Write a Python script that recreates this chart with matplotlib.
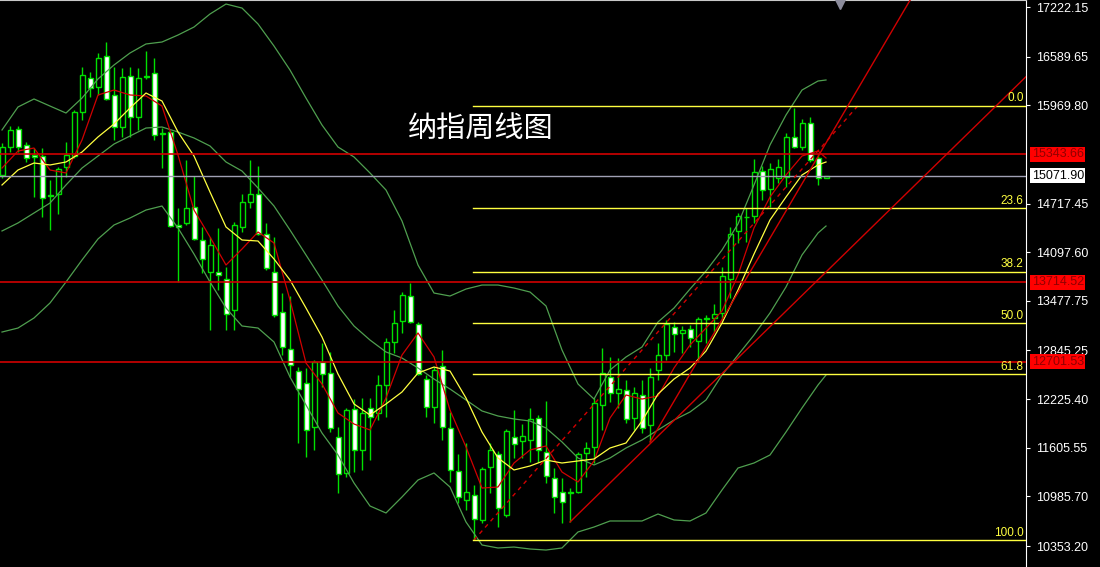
import matplotlib
matplotlib.use("Agg")
import matplotlib.pyplot as plt
import matplotlib.transforms as mtransforms
import numpy as np

# weekly candles, oldest first
opens = [15081, 15438, 15668, 15463, 15336, 15323, 14827, 14839, 15183, 15323,
         15884, 16317, 16203, 16598, 16101, 15693, 16343, 15820, 16330, 16381,
         15604, 15629, 14444, 14469, 14673, 14253, 13845, 13845, 13756, 13361,
         14418, 14737, 14839, 14329, 13845, 13335, 12864, 12583, 12430, 11870,
         12698, 12558, 11742, 11284, 12099, 11577, 12112, 12048, 12405, 12953,
         13221, 13539, 13182, 12481, 12124, 12647, 11857, 11309, 10939, 11003,
         10685, 11360, 11526, 10748, 11742, 11691, 11704, 11984, 11551, 11220,
         11041, 11028, 11041, 11539, 11615, 12150, 12507, 12303, 12341, 11984,
         12277, 11895, 12596, 12787, 13144, 13068, 13119, 12966, 13246, 13259,
         13323, 13756, 14368, 14546, 14559, 15132, 14903, 15043, 15056, 15565,
         15438, 15744, 15298, 15038]
highs = [15489, 15706, 15706, 15502, 15425, 15425, 15018, 15183, 15502, 15910,
         16458, 16394, 16636, 16776, 16458, 16445, 16458, 16445, 16661, 16572,
         15680, 15655, 14661, 15272, 15069, 14418, 14291, 14406, 13909, 14482,
         14839, 15272, 15196, 14469, 14291, 13577, 13539, 12634, 12621, 12724,
         12940, 12825, 11870, 12112, 12227, 12239, 12239, 12532, 13004, 13361,
         13590, 13705, 13208, 12532, 12634, 12851, 12061, 11526, 11666, 11131,
         11360, 11666, 11564, 11844, 12086, 11908, 12112, 12023, 12201, 11347,
         11220, 11092, 11551, 11679, 12239, 12877, 12762, 12749, 12469, 12379,
         12469, 12621, 12940, 13233, 13208, 13157, 13170, 13272, 13297, 13437,
         13909, 14418, 14597, 14661, 15285, 15196, 15234, 15285, 15616, 15935,
         15795, 15820, 15349, 15072]
lows = [15043, 15374, 15374, 15247, 14801, 14546, 14380, 14584, 15056, 15298,
        15782, 16075, 16101, 16037, 15527, 15565, 15565, 15655, 16305, 15527,
        15170, 14418, 13718, 14444, 14253, 13832, 13106, 13616, 13106, 13106,
        14355, 14661, 14317, 13870, 13272, 12787, 12507, 11666, 11488, 11577,
        12379, 11806, 11028, 11233, 11296, 11322, 11449, 11959, 11997, 12813,
        13068, 13195, 12532, 11997, 11921, 11704, 11169, 10901, 10812, 10430,
        10646, 11028, 10596, 10723, 11475, 11475, 11424, 11424, 11156, 10774,
        10646, 10659, 11028, 11233, 11411, 11832, 12188, 12112, 11921, 11832,
        11793, 11679, 12469, 12724, 12825, 12813, 12889, 12698, 12940, 13080,
        13233, 13514, 14215, 14227, 14469, 14763, 14673, 14979, 14928, 15425,
        15400, 15247, 14954, 15038]
closes = [15438, 15655, 15438, 15298, 15311, 14788, 14814, 15158, 15336, 15884,
          16356, 16190, 16572, 16050, 15693, 16330, 15820, 16317, 16343, 15591,
          15616, 14431, 14418, 14661, 14266, 14010, 14189, 13807, 13310, 14444,
          14737, 14839, 14329, 13896, 13297, 12889, 12660, 12354, 11832, 12698,
          12545, 11857, 11271, 12086, 11577, 12048, 11997, 12405, 12953, 13195,
          13552, 13208, 12545, 12124, 12596, 11870, 11322, 10978, 11041, 10697,
          11335, 11577, 10838, 11819, 11653, 11755, 11971, 11577, 11245, 10978,
          10914, 11041, 11526, 11602, 12176, 12558, 12303, 12354, 11971, 12303,
          11857, 12507, 12787, 13182, 13055, 13106, 13004, 13246, 13259, 13310,
          13794, 14329, 14559, 14540, 15119, 14890, 15158, 15183, 15565, 15438,
          15744, 15272, 15043, 15071.90]

# indicator values, sampled every second week
ind_weeks = list(range(0, 103, 2)) + [103]
bb_upper = [15655, 15948, 16050, 15960, 15871, 16062, 16305, 16483, 16636, 16751,
            16776, 16865, 16967, 17133, 17260, 17209, 17006, 16725, 16419, 16062,
            15718, 15438, 15311, 15107, 14890, 14495, 13934, 13577, 13539, 13628,
            13679, 13679, 13641, 13590, 13412, 12851, 12418, 12226, 12596, 12762,
            12889, 13208, 13386, 13628, 13858, 14125, 14457, 14954, 15464, 15846,
            16164, 16279, 16292]
bb_mid = [14368, 14470, 14597, 14724, 14954, 15170, 15323, 15476, 15578, 15680,
          15693, 15629, 15553, 15451, 15247, 15132, 14916, 14686, 14380, 14062,
          13743, 13412, 13157, 12978, 12826, 12749, 12622, 12481, 12354, 12214,
          12074, 12010, 11972, 11946, 11857, 11679, 11475, 11386, 11475, 11602,
          11704, 11832, 11959, 12061, 12214, 12532, 12787, 13042, 13323, 13654,
          14062, 14342, 14431]
bb_lower = [13080, 13131, 13259, 13450, 13718, 13998, 14266, 14444, 14533, 14635,
            14686, 14406, 14074, 13718, 13386, 13157, 13131, 12953, 12507, 12150,
            11793, 11513, 11156, 10863, 10774, 10978, 11194, 11284, 11105, 10659,
            10366, 10328, 10340, 10315, 10302, 10328, 10532, 10595, 10672, 10672,
            10672, 10761, 10685, 10672, 10774, 11067, 11347, 11411, 11513, 11806,
            12112, 12405, 12532]
ma_fast = [15170, 15387, 15425, 15145, 15107, 15527, 16101, 16164, 16101, 16088,
           15960, 15336, 14635, 14291, 13934, 14138, 14355, 14215, 13488, 12685,
           12418, 12048, 11908, 11832, 12239, 12787, 13068, 12762, 12086, 11615,
           11092, 11105, 11411, 11577, 11628, 11296, 11169, 11437, 11984, 12278,
           12226, 12265, 12622, 12915, 13131, 13348, 13807, 14406, 14801, 15081,
           15323, 15387, 15298]
ma_slow = [14954, 15145, 15234, 15209, 15247, 15374, 15566, 15731, 15935, 16126,
           16024, 15629, 15323, 14865, 14419, 14253, 14240, 14011, 13743, 13386,
           13017, 12545, 12163, 12023, 12163, 12316, 12558, 12634, 12583, 12239,
           11806, 11475, 11322, 11373, 11449, 11411, 11437, 11462, 11602, 11666,
           11946, 12290, 12481, 12622, 12838, 13195, 13616, 14074, 14508, 14801,
           15081, 15209, 15247]

# support / resistance and current price
res_levels = [15343.66, 13714.52, 12701.53]
last_price = 15071.90
price_ticks = [17222.15, 16589.65, 15969.80, 14717.45, 14097.60, 13477.75,
               12845.25, 12225.40, 11605.55, 10985.70, 10353.20]

# retracement anchors (week, price)
fib_low = (59, 10430)
fib_high = (107, 15965)
fib_ratios = [0.0, 23.6, 38.2, 50.0, 61.8, 100.0]

# trend lines through two points (week, price)
trend_a = [(71, 10659), (103, 13845)]
trend_b = [(81, 11679), (103, 15489)]

title = "纳指周线图"

GREEN = '#00e000'
BAND = '#4f9f4f'
RED = '#d00000'
YELLOW = '#ffff40'

plt.rcParams['font.family'] = ['Liberation Sans', 'DejaVu Sans']

fig = plt.figure(figsize=(11, 5.67), dpi=100, facecolor='black')
ax = fig.add_axes([0, 0, 1026 / 1100, 1])
ax.set_facecolor('black')
ax.set_xlim(-0.25, 128)
ax.set_ylim(10085.6, 17311.4)

# candles
x = np.arange(len(opens))
o = np.array(opens)
c = np.array(closes)
up = c >= o
ax.vlines(x, lows, highs, color=GREEN, lw=1, zorder=2)
body_lo = np.minimum(o, c)
body_h = np.maximum(np.abs(c - o), 4)
ax.bar(x, body_h, bottom=body_lo, width=0.625,
       color=np.where(up, 'black', 'white'), edgecolor=GREEN,
       linewidth=1, zorder=3)

# bollinger bands and moving averages
for band in (bb_upper, bb_mid, bb_lower):
    ax.plot(ind_weeks, band, color=BAND, lw=0.9, zorder=4)
ax.plot(ind_weeks, ma_fast, color=RED, lw=0.9, zorder=5)
ax.plot(ind_weeks, ma_slow, color=YELLOW, lw=0.9, zorder=5)

# horizontal levels
for lv in res_levels:
    ax.axhline(lv, color=RED, lw=1.2, zorder=6)
ax.axhline(last_price, color='#a0a0b4', lw=1, zorder=6)

# fibonacci retracement
rng = fib_high[1] - fib_low[1]
ax.plot([fib_low[0], fib_high[0]], [fib_low[1], fib_high[1]],
        color=RED, lw=1, ls=(0, (3, 3)), zorder=6)
for r in fib_ratios:
    lv = fib_high[1] - rng * r / 100
    ax.plot([fib_low[0] - 0.1, 128], [lv, lv], color=YELLOW, lw=1, zorder=6)
    ax.text(127.7, lv + 15, f"{r:.1f}", color=YELLOW, fontsize=8.5,
            ha='right', va='bottom', zorder=7)

# trend lines, extended to the right
for (x0, y0), (x1, y1) in (trend_a, trend_b):
    k = (y1 - y0) / (x1 - x0)
    ax.plot([x0, 128], [y0, y0 + k * (128 - x0)], color=RED, lw=1, zorder=6)

ax.text(59.9, 15655, title, color='white', fontsize=21, ha='center',
        va='center', family=['Noto Sans CJK SC', 'DejaVu Sans'], zorder=8)

# price scale on the right
ax.yaxis.tick_right()
ax.set_yticks(price_ticks)
ax.set_yticklabels([f"{v:.2f}" for v in price_ticks])
ax.tick_params(axis='y', colors='white', labelsize=9, length=3, pad=4)
ax.set_xticks([])
for s in ('left', 'bottom'):
    ax.spines[s].set_visible(False)
ax.spines['right'].set_color('white')
ax.spines['top'].set_color('#c8c8c8')

trans = mtransforms.blended_transform_factory(ax.transAxes, ax.transData)
for lv in res_levels:
    ax.text(1.0055, lv, f"{lv:.2f}", transform=trans, color='#900000',
            fontsize=9, va='center', ha='left', clip_on=False, zorder=9,
            bbox=dict(boxstyle='square,pad=0.12', fc='#ff0000', ec='none'))
ax.text(1.0055, last_price, f"{last_price:.2f}", transform=trans, color='black',
        fontsize=9, va='center', ha='left', clip_on=False, zorder=9,
        bbox=dict(boxstyle='square,pad=0.12', fc='white', ec='none'))

# chart shift marker
shift = mtransforms.blended_transform_factory(ax.transData, ax.transAxes)
ax.plot([104.75], [0.993], marker='v', ms=7, color='#8c8c9c', transform=shift,
        clip_on=False, zorder=9)

fig.savefig('out.png', dpi=100, facecolor='black')
